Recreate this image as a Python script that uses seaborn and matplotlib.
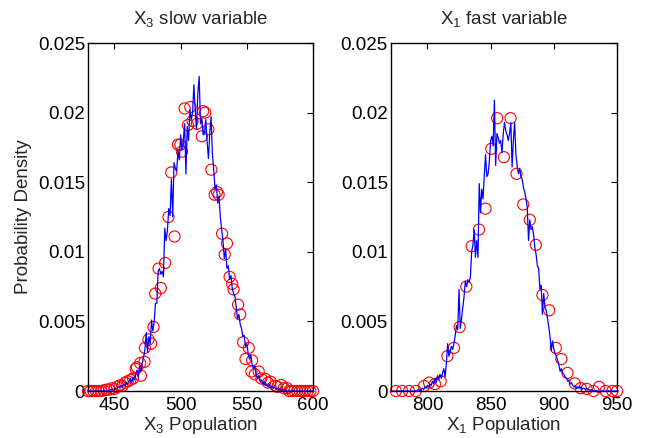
import numpy as np
import pandas as pd
import matplotlib
matplotlib.use("Agg")
import matplotlib.pyplot as plt
import seaborn as sns

# ---------------- data ----------------
# Left panel: X3 slow variable. Blue line, one value per integer population 430..600 (x1e-3)
x3_line_start = 430
x3_line_vals = [
    0, 0, 0, 0, 0, 0, 0, 0, 0, 0, 0, 0, 0, 0, 0,
    0.05, 0, 0.1, 0.1, 0.15, 0.1, 0.2, 0.2, 0.3, 0.25, 0.4, 0.3, 0.5, 0.4, 0.6, 0.5,
    0.7, 0.9, 0.6, 1.0, 0.8, 1.2, 1.5, 1.0, 1.8, 1.4,
    2.0, 2.4, 3.0, 4.2, 2.8, 3.9, 3.4, 5.1, 4.3, 5.0,
    6.3, 6.3, 8.6, 8.8, 8.4, 8.6, 8.2, 11.7, 10.8, 11.5,
    13.1, 12.6, 15.2, 12.5, 16.4, 16.0, 15.8, 17.3, 16.6, 18.4,
    17.3, 18.0, 19.2, 15.6, 19.0, 18.0, 20.2, 19.5, 20.0, 22.0,
    20.2, 18.8, 21.4, 22.6, 19.2, 19.6, 18.4, 18.5, 19.5, 17.9,
    16.7, 18.5, 19.7, 17.0, 15.9, 14.5, 14.8, 13.5, 14.0, 12.5,
    11.6, 10.8, 9.5, 10.2, 8.8, 9.0, 8.0, 8.3, 7.4, 7.0,
    6.8, 6.0, 5.2, 5.5, 4.8, 4.5, 3.9, 4.0, 3.2, 3.4,
    2.7, 2.3, 2.6, 1.9, 1.6, 1.8, 1.2, 0.9, 1.1, 0.7,
    0.8, 0.5, 0.7, 0.4, 0.5, 0.3, 0.5, 0.2, 0.3, 0.2,
    0.3, 0.1, 0.2, 0.1, 0.2, 0.05, 0.1, 0, 0.1, 0,
    0, 0, 0, 0, 0, 0, 0, 0, 0, 0, 0, 0, 0, 0, 0, 0, 0, 0, 0, 0,
]
# Left panel red circles (x, density x1e-3)
x3_circ_x = [430, 432, 434, 436, 438, 440, 442, 444, 446, 448, 450, 452, 454, 456, 458,
             460, 462, 464, 466, 467, 469.4, 470, 472.7, 473, 475.7, 477.7, 479.5, 480.8,
             483.3, 485, 488.3, 490.8, 492.9, 495.4, 498, 499.7, 501, 503, 505.5, 507.3,
             509, 512.3, 516, 517, 518.6, 521, 523.2, 525.7, 527.5, 528.7, 531.3, 533.3,
             535, 537, 538.9, 540, 543.4, 545, 547.2, 549, 551.5, 553.5, 554, 556, 559,
             561, 564, 566, 568, 571.7, 573, 576, 578, 580.5, 582, 584, 586, 588, 590,
             592, 594, 596, 598, 600]
x3_circ_y = [0, 0, 0, 0, 0, 0, 0.05, 0.1, 0.1, 0.2, 0.15, 0.3, 0.4, 0.35, 0.6,
             0.7, 0.8, 0.9, 1.6, 1.7, 2.0, 1.1, 2.1, 3.1, 3.7, 3.4, 4.6, 7.0,
             8.8, 7.4, 9.2, 12.5, 15.7, 11.1, 17.7, 17.7, 17.2, 20.3, 19.1, 20.4,
             19.4, 19.2, 18.3, 20.1, 20.0, 18.8, 15.9, 14.1, 14.3, 14.1, 11.3, 9.8,
             10.6, 8.2, 7.7, 7.3, 6.2, 5.5, 3.5, 2.3, 3.1, 1.4, 2.2, 1.2, 1.4,
             0.9, 0.86, 0.6, 0.67, 0.38, 0.3, 0.43, 0.2, 0.2, 0, 0, 0, 0, 0,
             0, 0, 0, 0, 0]

# Right panel: X1 fast variable. Blue line, one value per integer population 770..950 (x1e-3)
x1_line_start = 770
x1_line_vals = [
    0, 0, 0, 0, 0, 0, 0, 0, 0, 0, 0, 0, 0, 0, 0, 0, 0, 0, 0, 0, 0, 0,
    0.05, 0.1, 0, 0.1, 0.2, 0.1, 0.3, 0.2, 0.4,
    0.3, 0.5, 0.4, 0.7, 0.5, 0.9, 0.6, 1.1, 0.8, 1.2,
    0.9, 1.3, 1.6, 1.0, 2.0, 3.4, 2.5, 2.8, 3.2, 3.0,
    3.4, 4.0, 4.7, 4.4, 7.3, 4.5, 5.2, 6.0, 6.8, 7.9,
    7.5, 8.0, 7.8, 8.2, 10.0, 10.5, 11.6, 9.6, 10.8, 9.6,
    14.9, 12.8, 14.5, 13.8, 15.5, 17.0, 15.4, 15.6, 16.5, 18.0,
    18.3, 17.6, 20.9, 16.2, 18.5, 18.2, 17.8, 18.0, 17.1, 18.5,
    19.3, 18.7, 18.4, 18.0, 18.5, 19.3, 16.1, 18.0, 19.3, 17.0,
    16.2, 15.6, 16.0, 15.4, 15.2, 14.6, 14.3, 13.8, 13.2, 10.8,
    12.3, 11.6, 11.8, 11.2, 10.3, 9.8, 9.0, 8.8, 7.3, 7.6,
    5.5, 7.0, 6.0, 5.8, 5.2, 4.6, 3.9, 2.9, 3.6, 3.0,
    2.7, 2.5, 2.2, 1.9, 1.4, 1.6, 1.3, 1.2, 1.0, 0.9,
    0.7, 0.8, 0.5, 0.6, 0.4, 0.3, 0.4, 0.2, 0.3, 0.2,
    0.3, 0.1, 0.2, 0.2, 0.1, 0.2, 0.1, 0.1, 0.05, 0.1,
    0, 0, 0, 0, 0, 0, 0, 0, 0, 0, 0, 0, 0, 0, 0, 0, 0, 0, 0, 0,
]
# Right panel red circles (x, density x1e-3)
x1_circ_x = [775, 780, 785.5, 790.8, 797.3, 801.3, 806, 810.5, 815.8, 821, 825.5,
             830.8, 835, 840.8, 846, 850.5, 855.2, 860.5, 865.8, 870.5, 875.8, 881,
             885.8, 891, 896.3, 901.6, 906, 910.8, 916.6, 921.3, 926, 931.4, 935.8,
             941, 946.3, 950]
x1_circ_y = [0, 0, 0, 0, 0.36, 0.6, 0.5, 0.7, 2.5, 3.1, 4.6,
             7.5, 10.4, 11.6, 13.1, 17.4, 19.6, 16.8, 19.6, 15.6, 13.4, 12.3,
             10.5, 6.9, 5.8, 3.1, 2.3, 1.3, 0.55, 0.2, 0.15, 0, 0.3,
             0, 0, 0]

titles = ["X$_3$ slow variable", "X$_1$ fast variable"]
xlabels = ["X$_3$ Population", "X$_1$ Population"]
ylabel = "Probability Density"
xticks_left = [450, 500, 550, 600]
xticks_right = [800, 850, 900, 950]
yticks = [0, 0.005, 0.01, 0.015, 0.02, 0.025]
ytick_labels = ["0", "0.005", "0.01", "0.015", "0.02", "0.025"]

# ---------------- styling ----------------
sns.set_style("white")
plt.rcParams["font.family"] = ["Liberation Sans", "DejaVu Sans"]
plt.rcParams["mathtext.fontset"] = "custom"
plt.rcParams["mathtext.rm"] = "Liberation Sans"
plt.rcParams["mathtext.it"] = "Liberation Sans"
plt.rcParams["mathtext.default"] = "regular"

FS = 13.5

fig = plt.figure(figsize=(6.48, 4.38), dpi=100)
axL = fig.add_axes([0.1358, 0.1073, 0.3472, 0.7945])
axR = fig.add_axes([0.6030, 0.1073, 0.3492, 0.7945])

def panel(ax, line_start, line_vals, cx, cy, xlim, xticks, title, xlabel, show_ylabel):
    lx = np.arange(line_start, line_start + len(line_vals))
    ly = np.array(line_vals) * 1e-3
    cdf = pd.DataFrame({"x": cx, "y": np.array(cy) * 1e-3})
    ldf = pd.DataFrame({"x": lx, "y": ly})
    sns.scatterplot(data=cdf, x="x", y="y", ax=ax, marker="o", s=64,
                    facecolors="none", edgecolor="red", linewidth=0.8,
                    zorder=2, clip_on=False)
    sns.lineplot(data=ldf, x="x", y="y", ax=ax, color="blue", linewidth=0.9,
                 estimator=None, sort=False, zorder=3)
    ax.set_xlim(*xlim)
    ax.set_ylim(0, 0.025)
    ax.set_xticks(xticks)
    ax.set_yticks(yticks)
    ax.set_yticklabels(ytick_labels)
    ax.tick_params(direction="in", length=4, width=0.8, top=True, right=True,
                   labelsize=FS, colors="black", pad=2)
    ax.tick_params(axis="x", pad=4)
    for s in ax.spines.values():
        s.set_visible(True)
        s.set_color("black")
        s.set_linewidth(1.0)
    ax.set_title(title, fontsize=FS, pad=14)
    ax.set_xlabel(xlabel, fontsize=FS, labelpad=1)
    if show_ylabel:
        ax.set_ylabel(ylabel, fontsize=FS, labelpad=4)
    else:
        ax.set_ylabel("")

panel(axL, x3_line_start, x3_line_vals, x3_circ_x, x3_circ_y, (430, 600),
      xticks_left, titles[0], xlabels[0], True)
panel(axR, x1_line_start, x1_line_vals, x1_circ_x, x1_circ_y, (771, 950),
      xticks_right, titles[1], xlabels[1], False)

fig.savefig("out.png", dpi=100, facecolor="white")
